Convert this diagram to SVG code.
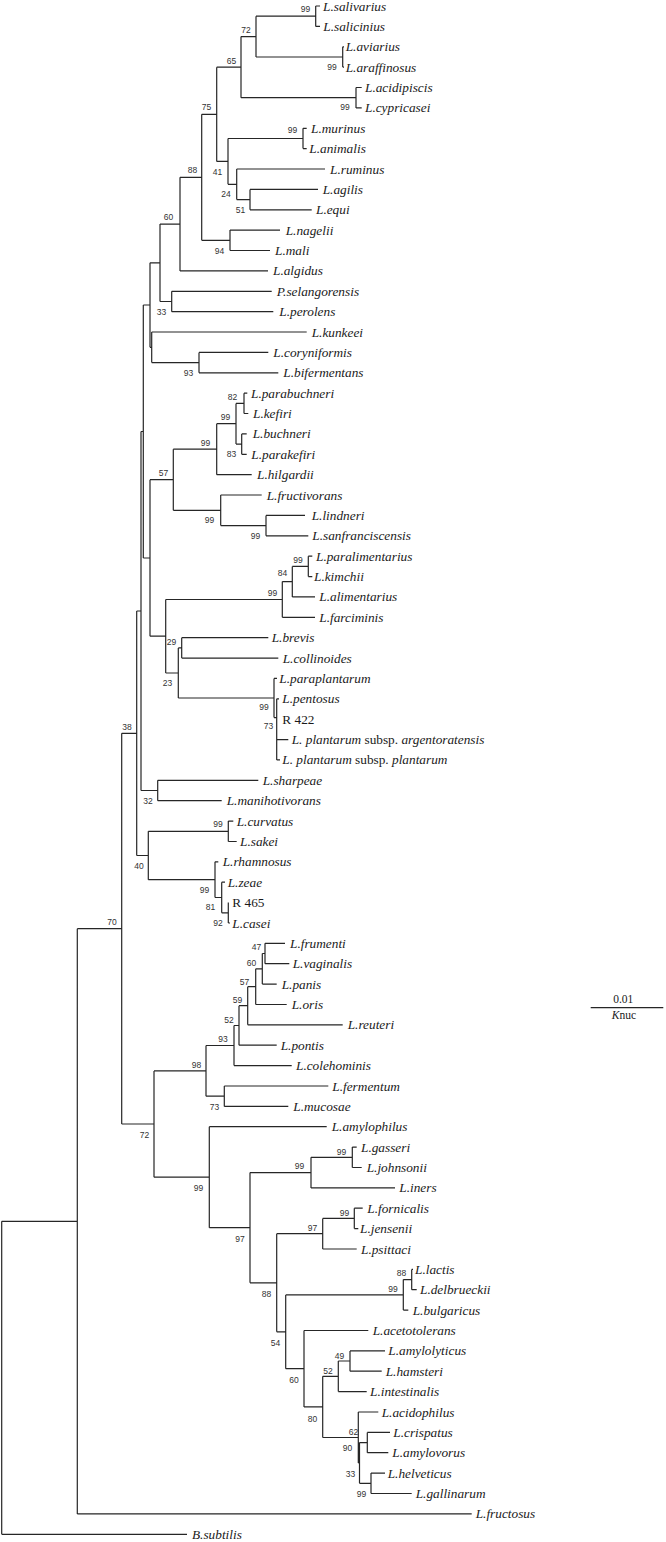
<svg xmlns="http://www.w3.org/2000/svg" width="666" height="1542" viewBox="0 0 666 1542">
<style>
.lf{font-family:"Liberation Serif","Times New Roman",serif;font-size:13.3px;font-style:italic;fill:#1a1a1a}
.rm{font-style:normal}
.it{font-style:italic}
.bs{font-family:"Liberation Sans",Arial,sans-serif;font-size:8.5px;fill:#333;text-anchor:middle}
.br{fill:none;stroke:#262626;stroke-width:1.2}
.sc{font-family:"Liberation Serif","Times New Roman",serif;font-size:11.5px;fill:#1a1a1a;text-anchor:middle}
</style>
<rect width="666" height="1542" fill="#fff"/>
<g id="connectors">
<path class="br" d="M315.7 6V26.4M315.7 6H320M315.7 26.4H320
M342.7 46.8V67.1M342.7 46.8H344M342.7 67.1H344
M256 16.2V57M256 16.2H315.7M256 57H342.7
M356 87.5V107.9M356 87.5H361.7M356 107.9H361.7
M241 36.6V97.7M241 36.6H256M241 97.7H356
M303 128.3V148.6M303 128.3H306.7M303 148.6H306.7
M250 189.4V209.8M250 189.4H318M250 209.8H311.7
M236.7 169V199.6M236.7 169H325M236.7 199.6H250
M228 138.5V184.3M228 138.5H303M228 184.3H236.7
M216.7 67.2V161.4M216.7 67.2H241M216.7 161.4H228
M230 230.1V250.5M230 230.1H280M230 250.5H270
M201.7 114.3V240.3M201.7 114.3H216.7M201.7 240.3H230
M180 177.3V270.9M180 177.3H201.7M180 270.9H268
M171.7 291.3V311.7M171.7 291.3H271.7M171.7 311.7H273.3
M160 224.1V301.5M160 224.1H180M160 301.5H171.7
M199 352.4V372.8M199 352.4H268.3M199 372.8H278.3
M151.7 332V362.6M151.7 332H306.7M151.7 362.6H199
M150 262.8V347.3M150 262.8H160M150 347.3H151.7
M244 393.2V413.5M244 393.2H247.3M244 413.5H248.3
M241.7 433.9V454.3M241.7 433.9H246.7M241.7 454.3H246.7
M236 403.4V444.1M236 403.4H244M236 444.1H241.7
M216.7 423.7V474.7M216.7 423.7H236M216.7 474.7H251.7
M266 515.4V535.8M266 515.4H305M266 535.8H308.3
M220.7 495V525.6M220.7 495H261.7M220.7 525.6H266
M173.3 449.2V510.3M173.3 449.2H216.7M173.3 510.3H220.7
M308.3 556.2V576.6M308.3 556.2H312.3M308.3 576.6H312.3
M292.3 566.4V596.9M292.3 566.4H308.3M292.3 596.9H315
M282.3 581.6V617.3M282.3 581.6H292.3M282.3 617.3H315
M181.7 637.7V658.1M181.7 637.7H268.3M181.7 658.1H278.3
M274 678.4V717.6M274 678.4H277M274 717.6H276.7
M276.7 698.8V759.9M276.7 698.8H279M276.7 739.6H288.3M276.7 759.9H280
M178.3 647.9V698M178.3 647.9H181.7M178.3 698H274
M165.7 599.5V673M165.7 599.5H282.3M165.7 673H178.3
M150 479.7V636.2M150 479.7H173.3M150 636.2H165.7
M143.3 305V558M143.3 305H150M143.3 558H150
M157.7 780.3V800.7M157.7 780.3H258.3M157.7 800.7H221.7
M141 431.5V790.5M141 431.5H143.3M141 790.5H157.7
M228.3 821.1V841.5M228.3 821.1H233.3M228.3 841.5H236.7
M228.3 902.6V923M228.3 923H230
M221.7 882.2V912.8M221.7 882.2H225M221.7 912.8H228.3
M215 861.8V897.5M215 861.8H218.3M215 897.5H221.7
M148.3 831.3V879.7M148.3 831.3H228.3M148.3 879.7H215
M136.7 611V855.5M136.7 611H141M136.7 855.5H148.3
M265 943.3V963.7M265 943.3H285M265 963.7H289.3
M262.3 953.5V984.1M262.3 953.5H265M262.3 984.1H276.7
M255.7 968.8V1004.5M255.7 968.8H262.3M255.7 1004.5H286.7
M247.7 986.7V1024.8M247.7 986.7H255.7M247.7 1024.8H342.7
M239 1005.7V1045.2M239 1005.7H247.7M239 1045.2H276.7
M234 1025.5V1065.6M234 1025.5H239M234 1065.6H291.7
M224.3 1086V1106.4M224.3 1086H328.3M224.3 1106.4H288.3
M206 1045.5V1096.2M206 1045.5H234M206 1096.2H224.3
M352.3 1147.1V1167.5M352.3 1147.1H356.7M352.3 1167.5H361.7
M311 1157.3V1187.9M311 1157.3H352.3M311 1187.9H395
M354.3 1208.2V1228.6M354.3 1208.2H362.7M354.3 1228.6H358.3
M322.7 1218.4V1249M322.7 1218.4H354.3M322.7 1249H356.7
M411.7 1269.4V1289.7M411.7 1269.4H413M411.7 1289.7H416.7
M403.3 1279.6V1310.1M403.3 1279.6H411.7M403.3 1310.1H408.3
M350 1350.9V1371.2M350 1350.9H385M350 1371.2H381.7
M338.3 1361V1391.6M338.3 1361H350M338.3 1391.6H366.7
M367.3 1432.4V1452.7M367.3 1432.4H390M367.3 1452.7H388.3
M371 1473.1V1493.5M371 1473.1H385M371 1493.5H411.7
M359.5 1442.6V1483.3M359.5 1442.6H367.3M359.5 1483.3H371
M358.3 1412V1463M358.3 1412H378.3M358.3 1463H359.5
M322.7 1376.3V1437.5M322.7 1376.3H338.3M322.7 1437.5H358.3
M304 1330.5V1406.9M304 1330.5H368.3M304 1406.9H322.7
M285.7 1294.9V1368.7M285.7 1294.9H403.3M285.7 1368.7H304
M276.7 1233.7V1331.8M276.7 1233.7H322.7M276.7 1331.8H285.7
M250 1172.6V1282.8M250 1172.6H311M250 1282.8H276.7
M209.3 1126.7V1227.7M209.3 1126.7H326.7M209.3 1227.7H250
M154 1070.9V1177.2M154 1070.9H206M154 1177.2H209.3
M121.7 733.3V1124M121.7 733.3H136.7M121.7 1124H154
M77.3 928.7V1513.9M77.3 928.7H121.7M77.3 1513.9H471.7
M1.7 1221.3V1534.3M1.7 1221.3H77.3M1.7 1534.3H187"/>
</g>
<g id="leaves">
<g id="t01"><text class="lf" x="323" y="10.5">L.salivarius</text></g>
<g id="t02"><text class="lf" x="323.3" y="30.9">L.salicinius</text></g>
<g id="t03"><text class="lf" x="345.7" y="51.3">L.aviarius</text></g>
<g id="t04"><text class="lf" x="345.7" y="71.6">L.araffinosus</text></g>
<g id="t05"><text class="lf" x="365" y="92">L.acidipiscis</text></g>
<g id="t06"><text class="lf" x="365" y="112.4">L.cypricasei</text></g>
<g id="t07"><text class="lf" x="311" y="132.8">L.murinus</text></g>
<g id="t08"><text class="lf" x="309.3" y="153.1">L.animalis</text></g>
<g id="t09"><text class="lf" x="330" y="173.5">L.ruminus</text></g>
<g id="t10"><text class="lf" x="322.7" y="193.9">L.agilis</text></g>
<g id="t11"><text class="lf" x="316" y="214.3">L.equi</text></g>
<g id="t12"><text class="lf" x="285.7" y="234.6">L.nagelii</text></g>
<g id="t13"><text class="lf" x="275" y="255">L.mali</text></g>
<g id="t14"><text class="lf" x="273" y="275.4">L.algidus</text></g>
<g id="t15"><text class="lf" x="276.7" y="295.8">P.selangorensis</text></g>
<g id="t16"><text class="lf" x="279.3" y="316.2">L.perolens</text></g>
<g id="t17"><text class="lf" x="311.7" y="336.5">L.kunkeei</text></g>
<g id="t18"><text class="lf" x="273.3" y="356.9">L.coryniformis</text></g>
<g id="t19"><text class="lf" x="283.3" y="377.3">L.bifermentans</text></g>
<g id="t20"><text class="lf" x="251" y="397.7">L.parabuchneri</text></g>
<g id="t21"><text class="lf" x="253" y="418">L.kefiri</text></g>
<g id="t22"><text class="lf" x="252.7" y="438.4">L.buchneri</text></g>
<g id="t23"><text class="lf" x="251.3" y="458.8">L.parakefiri</text></g>
<g id="t24"><text class="lf" x="257" y="479.2">L.hilgardii</text></g>
<g id="t25"><text class="lf" x="266.7" y="499.5">L.fructivorans</text></g>
<g id="t26"><text class="lf" x="311.7" y="519.9">L.lindneri</text></g>
<g id="t27"><text class="lf" x="312.3" y="540.3">L.sanfranciscensis</text></g>
<g id="t28"><text class="lf" x="316" y="560.7">L.paralimentarius</text></g>
<g id="t29"><text class="lf" x="314" y="581.1">L.kimchii</text></g>
<g id="t30"><text class="lf" x="319.3" y="601.4">L.alimentarius</text></g>
<g id="t31"><text class="lf" x="319.3" y="621.8">L.farciminis</text></g>
<g id="t32"><text class="lf" x="271.7" y="642.2">L.brevis</text></g>
<g id="t33"><text class="lf" x="282.7" y="662.6">L.collinoides</text></g>
<g id="t34"><text class="lf" x="279.3" y="682.9">L.paraplantarum</text></g>
<g id="t35"><text class="lf" x="282.3" y="703.3">L.pentosus</text></g>
<g id="t36"><text class="lf rm" x="282.3" y="723.7">R 422</text></g>
<g id="t37"><text class="lf rm" x="291.7" y="744.1"><tspan class="it">L. plantarum</tspan> subsp. <tspan class="it">argentoratensis</tspan></text></g>
<g id="t38"><text class="lf rm" x="282.3" y="764.4"><tspan class="it">L. plantarum</tspan> subsp. <tspan class="it">plantarum</tspan></text></g>
<g id="t39"><text class="lf" x="262.7" y="784.8">L.sharpeae</text></g>
<g id="t40"><text class="lf" x="226.7" y="805.2">L.manihotivorans</text></g>
<g id="t41"><text class="lf" x="236.7" y="825.6">L.curvatus</text></g>
<g id="t42"><text class="lf" x="240" y="846">L.sakei</text></g>
<g id="t43"><text class="lf" x="222.7" y="866.3">L.rhamnosus</text></g>
<g id="t44"><text class="lf" x="227.7" y="886.7">L.zeae</text></g>
<g id="t45"><text class="lf rm" x="232.3" y="907.1">R 465</text></g>
<g id="t46"><text class="lf" x="232.3" y="927.5">L.casei</text></g>
<g id="t47"><text class="lf" x="290" y="947.8">L.frumenti</text></g>
<g id="t48"><text class="lf" x="292.7" y="968.2">L.vaginalis</text></g>
<g id="t49"><text class="lf" x="281.7" y="988.6">L.panis</text></g>
<g id="t50"><text class="lf" x="291.7" y="1009">L.oris</text></g>
<g id="t51"><text class="lf" x="347.7" y="1029.3">L.reuteri</text></g>
<g id="t52"><text class="lf" x="280.7" y="1049.7">L.pontis</text></g>
<g id="t53"><text class="lf" x="296" y="1070.1">L.colehominis</text></g>
<g id="t54"><text class="lf" x="332.3" y="1090.5">L.fermentum</text></g>
<g id="t55"><text class="lf" x="293.3" y="1110.9">L.mucosae</text></g>
<g id="t56"><text class="lf" x="331.7" y="1131.2">L.amylophilus</text></g>
<g id="t57"><text class="lf" x="361" y="1151.6">L.gasseri</text></g>
<g id="t58"><text class="lf" x="366.7" y="1172">L.johnsonii</text></g>
<g id="t59"><text class="lf" x="399.3" y="1192.4">L.iners</text></g>
<g id="t60"><text class="lf" x="367.3" y="1212.7">L.fornicalis</text></g>
<g id="t61"><text class="lf" x="360" y="1233.1">L.jensenii</text></g>
<g id="t62"><text class="lf" x="361" y="1253.5">L.psittaci</text></g>
<g id="t63"><text class="lf" x="415" y="1273.9">L.lactis</text></g>
<g id="t64"><text class="lf" x="420" y="1294.2">L.delbrueckii</text></g>
<g id="t65"><text class="lf" x="412.7" y="1314.6">L.bulgaricus</text></g>
<g id="t66"><text class="lf" x="372.7" y="1335">L.acetotolerans</text></g>
<g id="t67"><text class="lf" x="388.3" y="1355.4">L.amylolyticus</text></g>
<g id="t68"><text class="lf" x="385.7" y="1375.7">L.hamsteri</text></g>
<g id="t69"><text class="lf" x="370" y="1396.1">L.intestinalis</text></g>
<g id="t70"><text class="lf" x="381.7" y="1416.5">L.acidophilus</text></g>
<g id="t71"><text class="lf" x="393.3" y="1436.9">L.crispatus</text></g>
<g id="t72"><text class="lf" x="392.3" y="1457.2">L.amylovorus</text></g>
<g id="t73"><text class="lf" x="387.7" y="1477.6">L.helveticus</text></g>
<g id="t74"><text class="lf" x="415.7" y="1498">L.gallinarum</text></g>
<g id="t75"><text class="lf" x="475.7" y="1518.4">L.fructosus</text></g>
<g id="t76"><text class="lf" x="192" y="1538.8">B.subtilis</text></g>
</g>
<g id="support">
<g id="b01"><text class="bs" x="305.5" y="12">99</text></g>
<g id="b02"><text class="bs" x="246" y="33">72</text></g>
<g id="b03"><text class="bs" x="332" y="70">99</text></g>
<g id="b04"><text class="bs" x="231.5" y="64">65</text></g>
<g id="b05"><text class="bs" x="345" y="110">99</text></g>
<g id="b06"><text class="bs" x="206.5" y="110">75</text></g>
<g id="b07"><text class="bs" x="292.5" y="133">99</text></g>
<g id="b08"><text class="bs" x="192.5" y="173">88</text></g>
<g id="b09"><text class="bs" x="217.5" y="175">41</text></g>
<g id="b10"><text class="bs" x="226" y="197">24</text></g>
<g id="b11"><text class="bs" x="240.5" y="213">51</text></g>
<g id="b12"><text class="bs" x="219.5" y="254">94</text></g>
<g id="b13"><text class="bs" x="168.5" y="220">60</text></g>
<g id="b14"><text class="bs" x="161.5" y="315">33</text></g>
<g id="b15"><text class="bs" x="188.5" y="376">93</text></g>
<g id="b16"><text class="bs" x="232.5" y="400">82</text></g>
<g id="b17"><text class="bs" x="225.5" y="420">99</text></g>
<g id="b18"><text class="bs" x="231.5" y="457">83</text></g>
<g id="b19"><text class="bs" x="205.5" y="446">99</text></g>
<g id="b20"><text class="bs" x="163.5" y="476">57</text></g>
<g id="b21"><text class="bs" x="209.5" y="523">99</text></g>
<g id="b22"><text class="bs" x="255.5" y="538.7">99</text></g>
<g id="b23"><text class="bs" x="298" y="563">99</text></g>
<g id="b24"><text class="bs" x="282.5" y="576">84</text></g>
<g id="b25"><text class="bs" x="272.5" y="596">99</text></g>
<g id="b26"><text class="bs" x="171.5" y="645">29</text></g>
<g id="b27"><text class="bs" x="167.5" y="686">23</text></g>
<g id="b28"><text class="bs" x="264" y="710">99</text></g>
<g id="b29"><text class="bs" x="268.5" y="729">73</text></g>
<g id="b30"><text class="bs" x="127" y="730">38</text></g>
<g id="b31"><text class="bs" x="148" y="803.7">32</text></g>
<g id="b32"><text class="bs" x="218" y="827">99</text></g>
<g id="b33"><text class="bs" x="139" y="868.7">40</text></g>
<g id="b34"><text class="bs" x="204.5" y="893">99</text></g>
<g id="b35"><text class="bs" x="210.5" y="910">81</text></g>
<g id="b36"><text class="bs" x="218" y="926">92</text></g>
<g id="b37"><text class="bs" x="112" y="924.7">70</text></g>
<g id="b38"><text class="bs" x="256.5" y="949.7">47</text></g>
<g id="b39"><text class="bs" x="251.5" y="965.7">60</text></g>
<g id="b40"><text class="bs" x="244.5" y="984.7">57</text></g>
<g id="b41"><text class="bs" x="237.5" y="1003">59</text></g>
<g id="b42"><text class="bs" x="229" y="1023">52</text></g>
<g id="b43"><text class="bs" x="223" y="1042">93</text></g>
<g id="b44"><text class="bs" x="196.5" y="1068">98</text></g>
<g id="b45"><text class="bs" x="214.5" y="1109.7">73</text></g>
<g id="b46"><text class="bs" x="144.5" y="1138">72</text></g>
<g id="b47"><text class="bs" x="198.5" y="1190.7">99</text></g>
<g id="b48"><text class="bs" x="299.5" y="1169">99</text></g>
<g id="b49"><text class="bs" x="341.5" y="1154.7">99</text></g>
<g id="b50"><text class="bs" x="240" y="1242">97</text></g>
<g id="b51"><text class="bs" x="312.5" y="1230.7">97</text></g>
<g id="b52"><text class="bs" x="344.5" y="1215.7">99</text></g>
<g id="b53"><text class="bs" x="266.5" y="1297">88</text></g>
<g id="b54"><text class="bs" x="401.5" y="1276">88</text></g>
<g id="b55"><text class="bs" x="393" y="1292">99</text></g>
<g id="b56"><text class="bs" x="275.5" y="1346">54</text></g>
<g id="b57"><text class="bs" x="294" y="1383">60</text></g>
<g id="b58"><text class="bs" x="312.5" y="1422">80</text></g>
<g id="b59"><text class="bs" x="328" y="1373.7">52</text></g>
<g id="b60"><text class="bs" x="339.5" y="1359">49</text></g>
<g id="b61"><text class="bs" x="353.5" y="1434.7">62</text></g>
<g id="b62"><text class="bs" x="347.5" y="1451.3">90</text></g>
<g id="b63"><text class="bs" x="350.5" y="1477.3">33</text></g>
<g id="b64"><text class="bs" x="361.5" y="1497.3">99</text></g>
</g>
<g id="scale-bar">
<text class="sc" x="623.3" y="1003">0.01</text>
<path class="br" d="M590.7 1007.7H663.3"/>
<text class="sc" x="624" y="1019" font-size="12.5"><tspan font-style="italic">K</tspan>nuc</text>
</g>
</svg>
